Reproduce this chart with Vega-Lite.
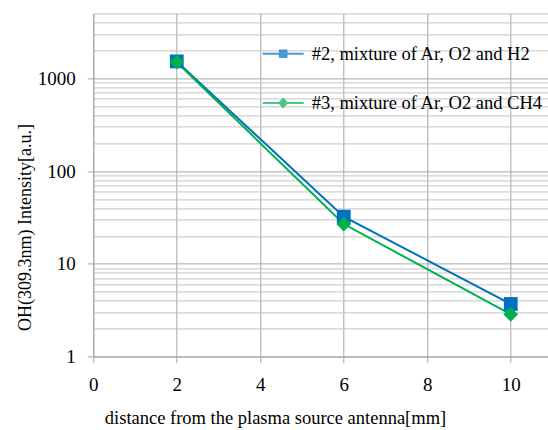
{
  "$schema": "https://vega.github.io/schema/vega-lite/v6.json",
  "width": 455,
  "height": 343.3,
  "autosize": {"type": "none"},
  "padding": {"left": 93.3, "top": 13.4, "right": 0, "bottom": 73.3},
  "background": "white",
  "config": {"view": {"stroke": null}},
  "data": {"values": [
    {"series": "#2, mixture of Ar, O2 and H2", "distance": 2, "intensity": 1520},
    {"series": "#2, mixture of Ar, O2 and H2", "distance": 6, "intensity": 32.3},
    {"series": "#2, mixture of Ar, O2 and H2", "distance": 10, "intensity": 3.7},
    {"series": "#3, mixture of Ar, O2 and CH4", "distance": 2, "intensity": 1490},
    {"series": "#3, mixture of Ar, O2 and CH4", "distance": 6, "intensity": 26.9},
    {"series": "#3, mixture of Ar, O2 and CH4", "distance": 10, "intensity": 2.86}
  ]},
  "encoding": {
    "x": {"field": "distance", "type": "quantitative",
      "scale": {"domain": [0, 10.9], "nice": false, "zero": false},
      "axis": {"values": [0, 2, 4, 6, 8, 10], "title": "distance from the plasma source antenna[mm]",
        "grid": true, "gridColor": "#a6a6a6", "gridWidth": 1,
        "domainColor": "#a6a6a6", "tickColor": "#a6a6a6", "tickSize": 6,
        "labelFont": "Liberation Serif", "labelFontSize": 19, "labelColor": "#000", "labelPadding": 13,
        "labelFlush": false,
        "titleFont": "Liberation Serif", "titleFontSize": 18.5, "titleFontWeight": "normal", "titleColor": "#000",
        "titleX": 181.7, "titleY": 67.3, "titleBaseline": "alphabetic", "titleAlign": "center"}},
    "y": {"field": "intensity", "type": "quantitative",
      "scale": {"type": "log", "domain": [1, 5000], "nice": false},
      "axis": {"values": [1,2,3,4,5,6,7,8,9,10,20,30,40,50,60,70,80,90,100,200,300,400,500,600,700,800,900,1000,2000,3000,4000,5000],
        "format": "d",
        "labelExpr": "indexof([1,10,100,1000], datum.value) >= 0 ? datum.label : ''",
        "title": "OH(309.3nm) Intensity[a.u.]",
        "grid": true,
        "gridColor": {"condition": {"test": "indexof([1,10,100,1000], datum.value) >= 0", "value": "#a6a6a6"}, "value": "#c4c4c4"},
        "gridWidth": 1,
        "domainColor": "#a6a6a6",
        "tickColor": {"condition": {"test": "indexof([1,10,100,1000], datum.value) < 0", "value": "transparent"}, "value": "#a6a6a6"},
        "tickSize": 6,
        "labelFont": "Liberation Serif", "labelFontSize": 19, "labelColor": "#000", "labelPadding": 12,
        "labelFlush": false,
        "titleFont": "Liberation Serif", "titleFontSize": 18, "titleFontWeight": "normal", "titleColor": "#000",
        "titleAngle": 270, "titleX": -63, "titleY": 213.6, "titleBaseline": "alphabetic", "titleAlign": "center"}}
  },
  "layer": [
    {"mark": {"type": "line", "strokeWidth": 2},
     "encoding": {"color": {"field": "series", "type": "nominal",
       "scale": {"domain": ["#2, mixture of Ar, O2 and H2", "#3, mixture of Ar, O2 and CH4"], "range": ["#0070C0", "#00B050"]},
       "legend": {"orient": "none", "legendX": 168.4, "legendY": 18.8, "title": null,
         "symbolType": "stroke", "symbolStrokeWidth": 2, "symbolSize": 1681, "rowPadding": 18.2, "labelOffset": 7,
         "labelFont": "Liberation Serif", "labelFontSize": 18.5, "labelColor": "#000", "labelLimit": 400}}}},
    {"transform": [{"filter": "datum.series == '#2, mixture of Ar, O2 and H2'"}],
     "mark": {"type": "point", "filled": true, "size": 190, "opacity": 1, "shape": "square"},
     "encoding": {"color": {"field": "series", "type": "nominal", "legend": null}}},
    {"transform": [{"filter": "datum.series == '#3, mixture of Ar, O2 and CH4'"}],
     "mark": {"type": "point", "filled": true, "size": 220, "opacity": 1, "shape": "diamond"},
     "encoding": {"color": {"field": "series", "type": "nominal", "legend": null}}},
    {"mark": {"type": "point", "filled": true, "size": 0},
     "encoding": {
       "shape": {"field": "series", "type": "nominal",
         "scale": {"domain": ["#2, mixture of Ar, O2 and H2", "#3, mixture of Ar, O2 and CH4"],
           "range": ["M-1,0H1M-0.16,-0.16H0.16V0.16H-0.16Z", "M-1,0H1M0,-0.19L0.19,0L0,0.19L-0.19,0Z"]},
         "legend": {"orient": "none", "legendX": 168.4, "legendY": 18.8, "title": null,
           "symbolStrokeWidth": 2, "symbolSize": 1681, "rowPadding": 18.2, "labelOffset": 7,
           "labelFont": "Liberation Serif", "labelFontSize": 18.5, "labelColor": "#000", "labelLimit": 400}}
     }}
  ]
}
